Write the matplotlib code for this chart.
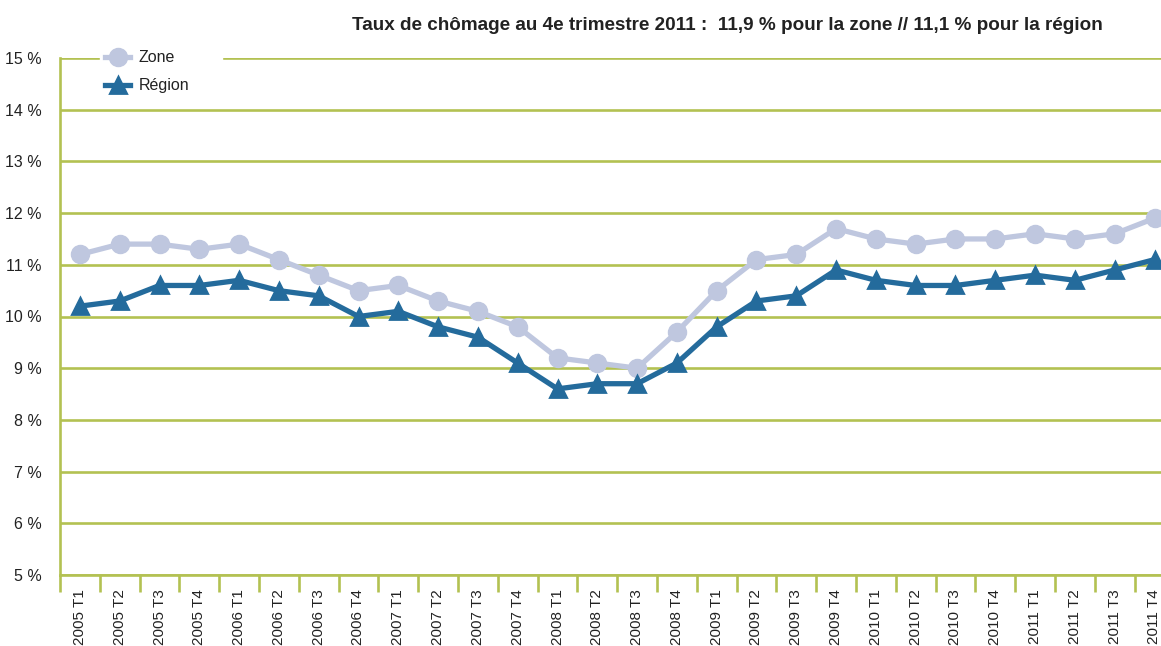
import numpy as np
import matplotlib.pyplot as plt

plt.rcParams['font.family'] = ['Liberation Sans', 'DejaVu Sans']

# trimestres 2005 T1 .. 2011 T4
trimestres = [f"{a} T{t}" for a in range(2005, 2012) for t in range(1, 5)]

zone = [11.2, 11.4, 11.4, 11.3, 11.4, 11.1, 10.8, 10.5, 10.6, 10.3, 10.1, 9.8,
        9.2, 9.1, 9.0, 9.7, 10.5, 11.1, 11.2, 11.7, 11.5, 11.4, 11.5, 11.5,
        11.6, 11.5, 11.6, 11.9]
region = [10.2, 10.3, 10.6, 10.6, 10.7, 10.5, 10.4, 10.0, 10.1, 9.8, 9.6, 9.1,
          8.6, 8.7, 8.7, 9.1, 9.8, 10.3, 10.4, 10.9, 10.7, 10.6, 10.6, 10.7,
          10.8, 10.7, 10.9, 11.1]

titre = "Taux de chômage au 4e trimestre 2011 :  11,9 % pour la zone // 11,1 % pour la région"

vert = '#b3c152'
c_zone = '#bfc7df'
c_region = '#246b9c'
gris = '#222222'

W, H = 1161, 646
fig = plt.figure(figsize=(W / 100, H / 100), dpi=100)
ax = fig.add_axes([60 / W, 1 - 575 / H, (W - 60) / W, (575 - 58) / H])

x = np.arange(len(trimestres))
ax.plot(x, zone, color=c_zone, lw=3.8, marker='o', ms=13, label='Zone', zorder=3)
ax.plot(x, region, color=c_region, lw=3.8, marker='^', ms=12, mew=2,
        label='Région', zorder=4, markeredgecolor=c_region)
for l in ax.lines:
    l.set_solid_joinstyle('round')

ax.set_ylim(5, 15)
ax.set_yticks(range(5, 16))
ax.set_yticklabels([f"{v} %" for v in range(5, 16)])
ax.set_xlim(-0.5, -0.5 + (W - 60) / 39.8)
ax.set_xticks(x)
ax.set_xticklabels(trimestres, rotation=90)
ax.set_xticks(x - 0.5, minor=True)

ax.grid(axis='y', color=vert, lw=1.9, zorder=1)
ax.set_axisbelow(True)
for s in ['top', 'right']:
    ax.spines[s].set_visible(False)
for s in ['left', 'bottom']:
    ax.spines[s].set_color(vert)
    ax.spines[s].set_linewidth(1.9)

ax.tick_params(axis='y', length=0, pad=13, labelsize=11.5, labelcolor=gris)
ax.tick_params(axis='x', which='major', length=0, pad=10, labelsize=11, labelcolor=gris)
ax.tick_params(axis='x', which='minor', length=12, width=1.9, color=vert)

leg = ax.legend(loc='upper left', bbox_to_anchor=(100 / W, 1 - 52 / H, 122 / W, 0.01),
                bbox_transform=fig.transFigure, mode='expand', frameon=True,
                fontsize=11.5, handlelength=1.6, borderpad=0.3, labelspacing=0.82,
                handletextpad=0.5, borderaxespad=0)
leg.get_frame().set_facecolor('white')
leg.get_frame().set_edgecolor('white')
leg.get_frame().set_alpha(1)
for t in leg.get_texts():
    t.set_color(gris)

fig.text(1103 / W, 1 - 26 / H, titre, ha='right', va='center',
         fontsize=13.6, fontweight='bold', color=gris)

fig.savefig('out.png', dpi=100)
